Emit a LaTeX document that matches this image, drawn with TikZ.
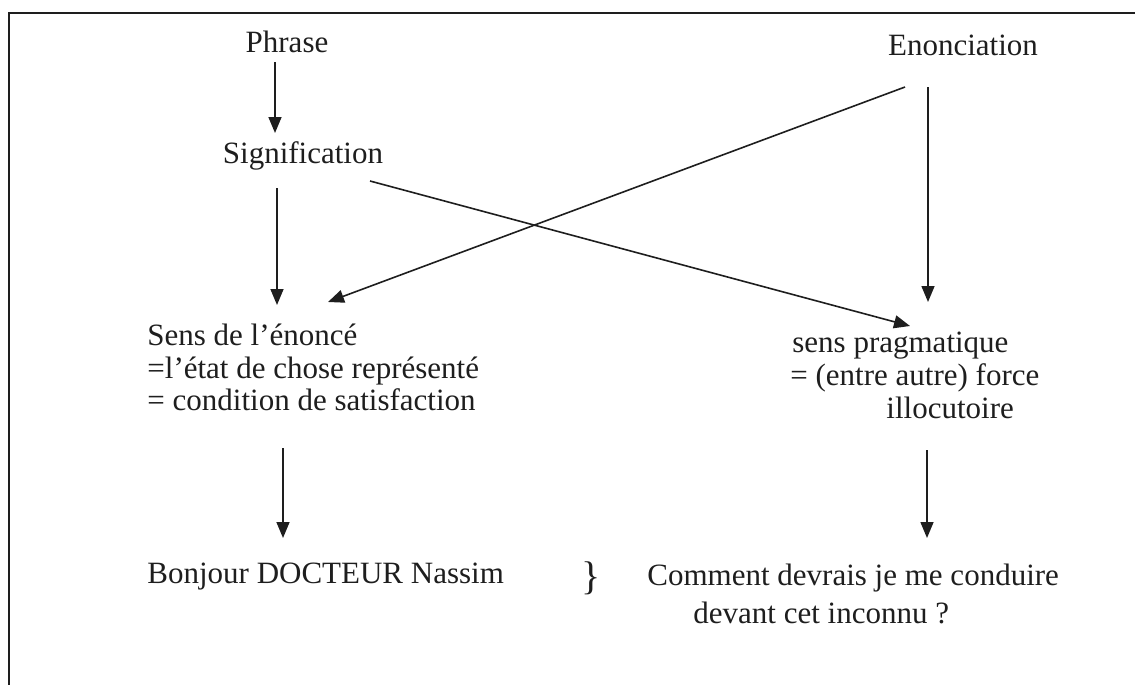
\documentclass[tikz,border=0pt]{standalone}
\usepackage{fontspec}
\setmainfont{Liberation Serif}
\usetikzlibrary{arrows.meta,calc}
\definecolor{ink}{RGB}{30,30,30}
\tikzset{schema/.style={x=0.5pt,y=-0.5pt,font=\fontsize{15.5}{16}\selectfont,text=ink},
  lbl/.style={inner sep=0pt,anchor=base west},
  ttl/.style={inner sep=0pt,anchor=base},
  arr/.style={draw=ink,line width=0.8pt,-{Triangle[length=8pt,width=6.5pt]}}}

\begin{document}
\begin{tikzpicture}[schema]
    \useasboundingbox (0,0) rectangle (1135,685);
    \draw[ink,line width=1pt] (9,685) -- (9,13) -- (1135,13);
    \node[ttl] (phrase) at (287,53) {Phrase};
    \node[ttl] (enon) at (963,55) {Enonciation};
    \node[ttl] (sig) at (303,163) {Signification};
    \node[lbl] (sensA) at (147,345) {Sens de l’énoncé};
    \node[lbl] (sensB) at (147,378) {=l’état de chose représenté};
    \node[lbl] (sensC) at (147,410) {= condition de satisfaction};
    \node[lbl] (pragA) at (792,352) {sens pragmatique};
    \node[lbl] (pragB) at (790,385) {= (entre autre) force};
    \node[lbl] (pragC) at (886,418) {illocutoire};
    \node[lbl] (bonjour) at (147,583) {Bonjour DOCTEUR Nassim};
    \node[ttl,font=\fontsize{20}{20}\selectfont] (brace) at (591,589) {\}};
    \node[lbl] (comA) at (647,585) {Comment devrais je me conduire};
    \node[lbl] (comB) at (693,623) {devant cet inconnu ?};
    \draw[arr] ($(phrase.base)+(-12,9)$) -- ($(sig.base)+(-28,-30)$);
    \draw[arr] ($(sig.base)+(-26,25)$) -- ($(sensA.base west)+(130,-40)$);
    \draw[arr] ($(sig.base)+(67,18)$) -- ($(pragA.base west)+(118,-26)$);
    \draw[arr] ($(enon.base)+(-58,32)$) -- ($(sensA.base west)+(181,-43)$);
    \draw[arr] ($(enon.base)+(-35,32)$) -- ($(pragA.base west)+(136,-50)$);
    \draw[arr] ($(sensC.base west)+(136,38)$) -- ($(bonjour.base west)+(136,-45)$);
    \draw[arr] ($(pragC.base west)+(41,32)$) -- ($(comA.base west)+(280,-47)$);
\end{tikzpicture}
\end{document}
